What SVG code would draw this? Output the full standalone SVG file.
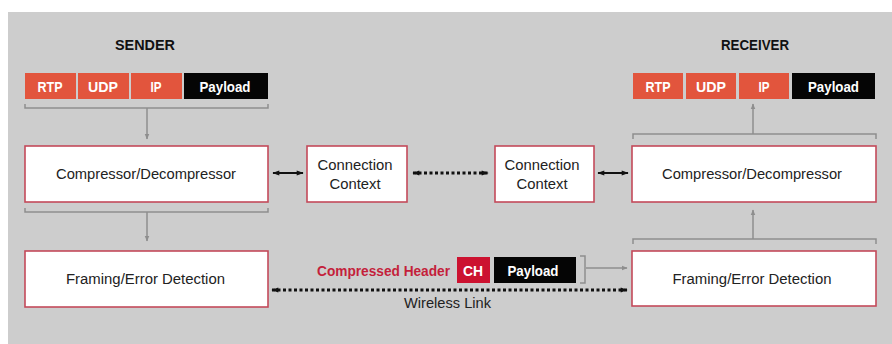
<svg xmlns="http://www.w3.org/2000/svg" width="892" height="344" viewBox="0 0 892 344">
  <defs>
    <marker id="grayHead" viewBox="0 0 10 10" refX="9" refY="5" markerWidth="6" markerHeight="6" orient="auto-start-reverse" markerUnits="userSpaceOnUse">
      <path d="M0,1 L10,5 L0,9 z" fill="#8e8e8e"/>
    </marker>
    <marker id="blackHead" viewBox="0 0 10 10" refX="9" refY="5" markerWidth="9" markerHeight="7" orient="auto-start-reverse" markerUnits="userSpaceOnUse">
      <path d="M0,1.5 L10,5 L0,8.5 z" fill="#111"/>
    </marker>
  </defs>
  <style>
    .bg { fill: #cdcdcd; }
    .box { fill: #ffffff; stroke: #c44a5a; stroke-width: 1.6; }
    text { font-family: "Liberation Sans", Arial, sans-serif; text-anchor: middle; }
    .label { font-size: 15.5px; fill: #222; }
    .title { font-size: 15.5px; font-weight: bold; fill: #111; }
    .hdr { fill: #e2553d; }
    .pay { fill: #050505; }
    .ch { fill: #cc1230; }
    .cell { font-size: 14.5px; font-weight: bold; fill: #fff; }
    .chtext { font-size: 14.5px; font-weight: bold; fill: #c41f3b; text-anchor: end; }
    .bracket { fill: none; stroke: #8e8e8e; stroke-width: 1.5; }
    .flow { fill: none; stroke: #8e8e8e; stroke-width: 1.5; marker-end: url(#grayHead); }
    .solid { fill: none; stroke: #111; stroke-width: 2; marker-start: url(#blackHead); marker-end: url(#blackHead); }
    .dotted { fill: none; stroke: #111; stroke-width: 3; stroke-dasharray: 3 2.5; marker-start: url(#blackHead); marker-end: url(#blackHead); }
  </style>

  <rect class="bg" x="8" y="12" width="884" height="332"/>

  <!-- Sender side -->
  <g id="sender-title"><text class="title" x="145" y="50" textLength="60" lengthAdjust="spacingAndGlyphs">SENDER</text></g>
  <g id="sender-packet">
    <rect class="hdr" x="25" y="73" width="51" height="26"/>
    <text class="cell" x="50" y="91.5" textLength="25" lengthAdjust="spacingAndGlyphs">RTP</text>
    <rect class="hdr" x="78" y="73" width="51" height="26"/>
    <text class="cell" x="103" y="91.5" textLength="30" lengthAdjust="spacingAndGlyphs">UDP</text>
    <rect class="hdr" x="131" y="73" width="51" height="26"/>
    <text class="cell" x="156" y="91.5" textLength="11" lengthAdjust="spacingAndGlyphs">IP</text>
    <rect class="pay" x="184" y="73" width="84" height="26"/>
    <text class="cell" x="225" y="91.5" textLength="51" lengthAdjust="spacingAndGlyphs">Payload</text>
  </g>
  <g id="sender-compressor">
    <rect class="box" x="25" y="146" width="243" height="56"/>
    <text class="label" x="146" y="178.5" textLength="180" lengthAdjust="spacingAndGlyphs">Compressor/Decompressor</text>
  </g>
  <g id="sender-framing">
    <rect class="box" x="25" y="251" width="243" height="56"/>
    <text class="label" x="145.5" y="283.5" textLength="159" lengthAdjust="spacingAndGlyphs">Framing/Error Detection</text>
  </g>
  <g id="sender-context">
    <rect class="box" x="307" y="146" width="100" height="56"/>
    <text class="label" x="355" y="169.5" textLength="75" lengthAdjust="spacingAndGlyphs">Connection</text>
    <text class="label" x="355" y="188.5" textLength="51" lengthAdjust="spacingAndGlyphs">Context</text>
  </g>

  <!-- Receiver side -->
  <g id="receiver-title"><text class="title" x="755" y="50" textLength="68" lengthAdjust="spacingAndGlyphs">RECEIVER</text></g>
  <g id="receiver-packet">
    <rect class="hdr" x="633" y="73" width="50" height="26"/>
    <text class="cell" x="658" y="91.5" textLength="25" lengthAdjust="spacingAndGlyphs">RTP</text>
    <rect class="hdr" x="686" y="73" width="50" height="26"/>
    <text class="cell" x="711" y="91.5" textLength="30" lengthAdjust="spacingAndGlyphs">UDP</text>
    <rect class="hdr" x="739" y="73" width="50" height="26"/>
    <text class="cell" x="764" y="91.5" textLength="11" lengthAdjust="spacingAndGlyphs">IP</text>
    <rect class="pay" x="792" y="73" width="83" height="26"/>
    <text class="cell" x="833.5" y="91.5" textLength="51" lengthAdjust="spacingAndGlyphs">Payload</text>
  </g>
  <g id="receiver-context">
    <rect class="box" x="495" y="146" width="99" height="56"/>
    <text class="label" x="542" y="169.5" textLength="75" lengthAdjust="spacingAndGlyphs">Connection</text>
    <text class="label" x="542" y="188.5" textLength="51" lengthAdjust="spacingAndGlyphs">Context</text>
  </g>
  <g id="receiver-compressor">
    <rect class="box" x="632" y="146" width="244" height="56"/>
    <text class="label" x="752" y="178.5" textLength="180" lengthAdjust="spacingAndGlyphs">Compressor/Decompressor</text>
  </g>
  <g id="receiver-framing">
    <rect class="box" x="632" y="251" width="244" height="55"/>
    <text class="label" x="752" y="283.5" textLength="159" lengthAdjust="spacingAndGlyphs">Framing/Error Detection</text>
  </g>

  <!-- Compressed packet on the wireless link -->
  <g id="compressed-packet">
    <text class="chtext" x="450" y="276" textLength="133" lengthAdjust="spacingAndGlyphs">Compressed Header</text>
    <rect class="ch" x="457" y="257" width="33" height="26"/>
    <text class="cell" x="473" y="275.5" textLength="20" lengthAdjust="spacingAndGlyphs">CH</text>
    <rect class="pay" x="494" y="257" width="82" height="26"/>
    <text class="cell" x="533" y="275.5" textLength="51" lengthAdjust="spacingAndGlyphs">Payload</text>
  </g>

  <!-- Connectors -->
  <g id="connectors">
    <!-- sender: packet down to compressor -->
    <path class="bracket" d="M25,104 V108 H268 V104"/>
    <path class="flow" d="M147,108 V139"/>
    <!-- sender: compressor down to framing -->
    <path class="bracket" d="M25,208 V212 H268 V208"/>
    <path class="flow" d="M147,212 V241"/>
    <!-- receiver: framing up to compressor -->
    <path class="bracket" d="M633,244 V239 H876 V244"/>
    <path class="flow" d="M753,239 V210"/>
    <!-- receiver: compressor up to packet -->
    <path class="bracket" d="M633,139 V134 H876 V139"/>
    <path class="flow" d="M753,134 V104"/>
    <!-- compressed packet into receiver framing -->
    <path class="bracket" d="M580,256 H585 V283 H580"/>
    <path class="flow" d="M586,268 H627"/>
    <!-- compressor / context links -->
    <path class="solid" d="M273,173 H303"/>
    <path class="solid" d="M598,173 H628"/>
    <!-- context synchronisation -->
    <path class="dotted" d="M413,173 H488"/>
    <!-- wireless link -->
    <path class="dotted" d="M272,290 H627"/>
    <text class="label" x="447.5" y="307.5" textLength="87" lengthAdjust="spacingAndGlyphs">Wireless Link</text>
  </g>
</svg>
